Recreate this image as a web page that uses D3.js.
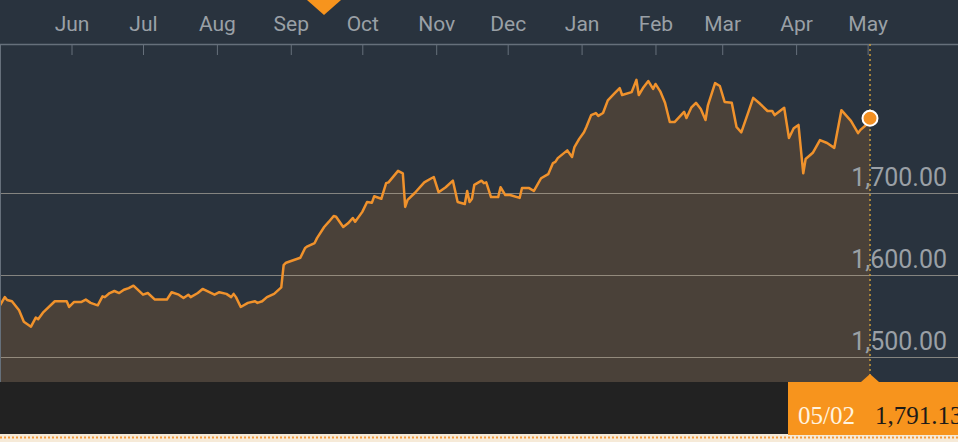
<!DOCTYPE html>
<html>
<head>
<meta charset="utf-8">
<script src="https://cdn.jsdelivr.net/npm/d3@7"></script>
<style>
  body { margin: 0; background: #29333e; }
  svg { display: block; }
</style>
</head>
<body>
<div id="chart"></div>
<script>
// price series (close values, one year to 05/02)
let dates = [
  "2018-05-02","2018-05-04","2018-05-05","2018-05-07","2018-05-10","2018-05-12","2018-05-15","2018-05-17","2018-05-18","2018-05-20",
  "2018-05-25","2018-05-28","2018-05-30","2018-05-31","2018-06-02","2018-06-05","2018-06-07","2018-06-09","2018-06-12","2018-06-14",
  "2018-06-15","2018-06-17","2018-06-19","2018-06-21","2018-06-23","2018-06-25","2018-06-27","2018-07-01","2018-07-03","2018-07-06",
  "2018-07-11","2018-07-13","2018-07-16","2018-07-18","2018-07-20","2018-07-21","2018-07-24","2018-07-26","2018-07-31","2018-08-02",
  "2018-08-05","2018-08-07","2018-08-08","2018-08-09","2018-08-11","2018-08-14","2018-08-17","2018-08-18","2018-08-20","2018-08-22",
  "2018-08-25","2018-08-28","2018-08-29","2018-08-30","2018-09-02","2018-09-05","2018-09-07","2018-09-08","2018-09-11","2018-09-12",
  "2018-09-15","2018-09-17","2018-09-19","2018-09-20","2018-09-23","2018-09-25","2018-09-27","2018-09-28","2018-10-01","2018-10-03",
  "2018-10-05","2018-10-06","2018-10-09","2018-10-11","2018-10-12","2018-10-16","2018-10-18","2018-10-19","2018-10-20","2018-10-23",
  "2018-10-27","2018-10-30","2018-10-31","2018-11-02","2018-11-05","2018-11-08","2018-11-10","2018-11-13","2018-11-14","2018-11-15",
  "2018-11-16","2018-11-17","2018-11-20","2018-11-21","2018-11-22","2018-11-24","2018-11-27","2018-11-28","2018-11-30","2018-12-02",
  "2018-12-06","2018-12-07","2018-12-10","2018-12-12","2018-12-15","2018-12-18","2018-12-20","2018-12-21","2018-12-22","2018-12-26",
  "2018-12-28","2018-12-29","2018-12-31","2019-01-02","2019-01-03","2019-01-05","2019-01-07","2019-01-08","2019-01-10","2019-01-12",
  "2019-01-15","2019-01-17","2019-01-18","2019-01-22","2019-01-24","2019-01-25","2019-01-27","2019-01-29","2019-01-31","2019-02-01",
  "2019-02-03","2019-02-05","2019-02-07","2019-02-09","2019-02-13","2019-02-14","2019-02-16","2019-02-18","2019-02-20","2019-02-22",
  "2019-02-23","2019-02-26","2019-02-28","2019-03-02","2019-03-05","2019-03-07","2019-03-09","2019-03-12","2019-03-14","2019-03-17",
  "2019-03-20","2019-03-22","2019-03-23","2019-03-27","2019-03-29","2019-03-31","2019-04-02","2019-04-04","2019-04-05","2019-04-08",
  "2019-04-11","2019-04-14","2019-04-17","2019-04-20","2019-04-24","2019-04-27","2019-04-28","2019-04-30","2019-05-02"
];
let prices = [
  1563,1573,1569.5,1568,1557,1543,1537,1548,1546,1554,
  1568,1568,1568,1561,1567,1567,1570,1566,1563,1574,
  1573,1578,1580.5,1578,1582,1584,1587,1576,1578,1570,
  1570,1579,1576,1572,1576,1573,1578,1583,1576,1579,
  1577,1573,1577,1573,1561,1566,1568,1566,1568,1573,
  1577,1585,1612,1615,1618,1621,1633,1635,1639,1645,
  1658.5,1665,1672,1671,1658.5,1663,1669.5,1665,1677,1689,
  1688,1696,1693,1712,1713,1727,1724,1683,1691.5,1700,
  1713,1718,1719.5,1701,1707,1715,1689,1686.5,1702.5,1689,
  1693,1710,1715,1712,1713,1695,1695,1707,1697.5,1697.5,
  1694,1706,1706,1702.5,1718,1723,1736.5,1738,1742.5,1752,
  1744,1756,1766,1774,1780.5,1795,1797.5,1794,1797.5,1813,
  1822,1828,1819.5,1823,1838,1819.5,1829,1836.5,1827,1833,
  1824,1810,1786.5,1786.5,1799,1791.5,1804,1810,1802.5,1789,
  1807,1834,1830.5,1811,1810,1780.5,1774,1799,1816,1808.5,
  1800,1800,1795,1804,1767,1779,1783,1724,1741.5,1749,
  1764.5,1761,1755,1801,1788,1773,1777,1782,1791.13
];
let yTicks = [1500, 1600, 1700];
let lastLabel = "05/02";
let lastValue = "1,791.13";

let width = 958, height = 442;
let plotTop = 44, plotBottom = 382;

let parse = d3.timeParse("%Y-%m-%d");
let data = dates.map((d, i) => ({date: parse(d), value: prices[i]}));

let x = d3.scaleTime()
  .domain([parse("2018-05-02"), parse("2019-05-02")])
  .range([0, 870]);

let y = d3.scaleLinear()
  .domain([1500, 1800])
  .range([357, 111]);

let svg = d3.select("#chart").append("svg")
  .attr("width", width)
  .attr("height", height);

// backgrounds
svg.append("rect").attr("x", 0).attr("y", 0).attr("width", width).attr("height", plotBottom)
  .attr("fill", "#29333e");
svg.append("rect").attr("x", 0).attr("y", plotBottom).attr("width", width).attr("height", 52)
  .attr("fill", "#222222");
svg.append("rect").attr("x", 0).attr("y", 434).attr("width", width).attr("height", 8)
  .attr("fill", "#f6ead8");
svg.append("line").attr("x1", 0).attr("x2", width).attr("y1", 437.5).attr("y2", 437.5)
  .attr("stroke", "#f39a3c").attr("stroke-width", 2).attr("stroke-dasharray", "2,2");

// area under the line
let area = d3.area()
  .x(d => x(d.date))
  .y0(plotBottom)
  .y1(d => y(d.value));

svg.append("path")
  .datum(data)
  .attr("d", area)
  .attr("fill", "#4a4139");

// grid lines
svg.append("g")
  .selectAll("line")
  .data(yTicks)
  .enter().append("line")
  .attr("x1", 0).attr("x2", width)
  .attr("y1", d => Math.round(y(d)) + 0.5)
  .attr("y2", d => Math.round(y(d)) + 0.5)
  .attr("stroke", "#cfc6b6")
  .attr("stroke-opacity", 0.55)
  .attr("stroke-width", 1);

// y labels
svg.append("g")
  .selectAll("text")
  .data(yTicks)
  .enter().append("text")
  .attr("x", 947)
  .attr("y", d => y(d) - 7)
  .attr("text-anchor", "end")
  .attr("font-family", "Roboto, sans-serif")
  .attr("font-size", 25)
  .attr("fill", "#9aa0a6")
  .text(d3.format(",.2f"));

// price line
let line = d3.line()
  .x(d => x(d.date))
  .y(d => y(d.value));

svg.append("path")
  .datum(data)
  .attr("d", line)
  .attr("fill", "none")
  .attr("stroke", "#f0922c")
  .attr("stroke-width", 2.5)
  .attr("stroke-linejoin", "round");

// left edge
svg.append("line").attr("x1", 0.5).attr("x2", 0.5).attr("y1", plotTop).attr("y2", plotBottom)
  .attr("stroke", "#66707b").attr("stroke-width", 1);

// top month axis
let xAxis = d3.axisBottom(x)
  .ticks(d3.timeMonth.every(1))
  .tickFormat(d3.timeFormat("%b"))
  .tickSize(11)
  .tickPadding(0);

let gx = svg.append("g").attr("transform", "translate(0," + plotTop + ")").call(xAxis);
gx.select(".domain").remove();
gx.selectAll(".tick").filter(d => d.getTime() === parse("2018-05-01").getTime()).remove();
gx.selectAll(".tick line").attr("stroke", "#66707b");
gx.selectAll(".tick text")
  .attr("y", -13)
  .attr("dy", 0)
  .attr("font-family", "Roboto, sans-serif")
  .attr("font-size", 21)
  .attr("fill", "#9aa0a6");
svg.append("line").attr("x1", 0).attr("x2", width).attr("y1", plotTop + 0.5).attr("y2", plotTop + 0.5)
  .attr("stroke", "#66707b").attr("stroke-width", 1.5);

// marker at last value
let last = data[data.length - 1];
svg.append("line")
  .attr("x1", x(last.date)).attr("x2", x(last.date))
  .attr("y1", plotTop).attr("y2", plotBottom)
  .attr("stroke", "#c99a3a").attr("stroke-width", 1.5).attr("stroke-dasharray", "2,3");

svg.append("circle")
  .attr("cx", x(last.date)).attr("cy", y(last.value))
  .attr("r", 7.5)
  .attr("fill", "#f39022")
  .attr("stroke", "#ffffff")
  .attr("stroke-width", 2);

// orange triangle at top
svg.append("path")
  .attr("d", "M307,0 L341,0 L324,15 Z")
  .attr("fill", "#f7941d");

// value box
let bx = x(last.date);
svg.append("rect").attr("x", 788).attr("y", plotBottom).attr("width", width - 788).attr("height", 53)
  .attr("fill", "#f7941d");
svg.append("path")
  .attr("d", "M" + (bx - 9) + "," + plotBottom + " L" + bx + "," + (plotBottom - 8) + " L" + (bx + 9) + "," + plotBottom + " Z")
  .attr("fill", "#f7941d");
svg.append("text")
  .attr("x", 798).attr("y", 424)
  .attr("font-family", "'Liberation Serif', 'DejaVu Serif', serif")
  .attr("font-size", 25)
  .attr("fill", "#fff4e0")
  .text(lastLabel);
svg.append("text")
  .attr("x", 875).attr("y", 424)
  .attr("font-family", "'Liberation Serif', 'DejaVu Serif', serif")
  .attr("font-size", 25)
  .attr("fill", "#1c1a18")
  .text(lastValue);
</script>
</body>
</html>
